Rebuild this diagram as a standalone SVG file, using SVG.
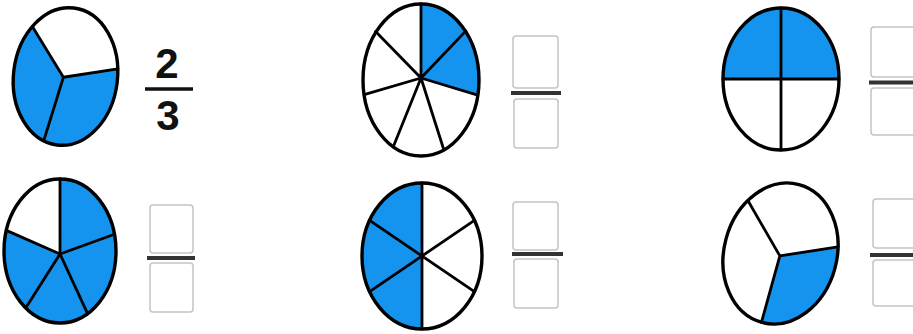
<svg xmlns="http://www.w3.org/2000/svg" width="913" height="334" viewBox="0 0 913 334">
<style>
.bg{fill:#ffffff}
.w{fill:#ffffff;stroke:none}
.b{fill:#1494ee;stroke:none}
.o{fill:none;stroke:#000;stroke-width:3.4}
.s{fill:none;stroke:#000;stroke-width:2.8;stroke-linecap:round;stroke-linejoin:round}
.box{fill:#fff;stroke:#c4c4c4;stroke-width:1.5}
.bar{stroke:#333;stroke-width:4}
.num{font-family:"Liberation Sans",Arial,sans-serif;font-weight:bold;font-size:42px;fill:#111;text-anchor:middle}
</style>
<rect class="bg" x="0" y="0" width="913" height="334"/>

<g id="pie-1">
  <g transform="translate(65.5 76.5) rotate(7)">
    <ellipse class="w" cx="0" cy="0" rx="52" ry="69"/>
    <path class="b" d="M -2 1 L -39 -45.6 A 52 69 0 0 0 -13.8 66.5 Z"/>
    <path class="b" d="M -2 1 L -13.8 66.5 A 52 69 0 0 0 51 -13.9 Z"/>
    <path class="s" d="M -39 -45.6 L -2 1 L 51 -13.9 M -2 1 L -13.8 66.5"/>
    <ellipse class="o" cx="0" cy="0" rx="52" ry="69"/>
  </g>
</g>
<g id="label-1">
  <text class="num" x="167" y="78">2</text>
  <line x1="145" y1="89" x2="193" y2="89" stroke="#111" stroke-width="3.5"/>
  <text class="num" x="168" y="130">3</text>
</g>

<g id="pie-2">
  <ellipse class="w" cx="421" cy="80" rx="58" ry="76"/>
  <path class="b" d="M 421 78 L 421 4 A 58 76 0 0 1 477.7 95.2 Z"/>
  <path class="s" d="M 421 4 L 421 78 M 465.9 30.9 L 421 78 M 477.7 95.2 L 421 78 M 443.6 149 L 421 78 M 393.6 146 L 421 78 M 364.2 94.7 L 421 78 M 375.6 31.6 L 421 78"/>
  <ellipse class="o" cx="421" cy="80" rx="58" ry="76"/>
</g>
<g id="answer-2">
  <rect class="box" x="513" y="36" width="45" height="52" rx="3"/>
  <line class="bar" x1="511" y1="93" x2="561" y2="93"/>
  <rect class="box" x="514" y="99" width="44" height="49" rx="3"/>
</g>

<g id="pie-3">
  <ellipse class="w" cx="781" cy="79" rx="58" ry="71"/>
  <path class="b" d="M 723 79 A 58 71 0 0 1 839 79 Z"/>
  <path class="s" d="M 781 8 V 150 M 723 79 H 839"/>
  <ellipse class="o" cx="781" cy="79" rx="58" ry="71"/>
</g>
<g id="answer-3">
  <rect class="box" x="871" y="27" width="60" height="50" rx="3"/>
  <line class="bar" x1="869" y1="82.5" x2="913" y2="82.5"/>
  <rect class="box" x="871" y="88" width="60" height="47" rx="3"/>
</g>

<g id="pie-4">
  <ellipse class="b" cx="60" cy="251" rx="56" ry="72"/>
  <path class="w" d="M 60 254 L 6.3 230.4 A 56 72 0 0 1 60 179 Z"/>
  <path class="s" d="M 60 179 L 60 254 M 114.5 234.2 L 60 254 M 87.6 313.7 L 60 254 M 25.7 307.9 L 60 254 M 6.3 230.4 L 60 254"/>
  <ellipse class="o" cx="60" cy="251" rx="56" ry="72"/>
</g>
<g id="answer-4">
  <rect class="box" x="150" y="205" width="43" height="48" rx="3"/>
  <line class="bar" x1="147" y1="258" x2="195" y2="258"/>
  <rect class="box" x="150" y="263" width="43" height="49" rx="3"/>
</g>

<g id="pie-5">
  <ellipse class="w" cx="422" cy="256" rx="60" ry="73"/>
  <path class="b" d="M 422 183 A 60 73 0 0 0 422 329 Z"/>
  <path class="s" d="M 422 183 V 329 M 369.6 220.4 L 474.4 291.6 M 474.4 220.4 L 369.6 291.6"/>
  <ellipse class="o" cx="422" cy="256" rx="60" ry="73"/>
</g>
<g id="answer-5">
  <rect class="box" x="513" y="202" width="45" height="48" rx="3"/>
  <line class="bar" x1="512" y1="254" x2="563" y2="254"/>
  <rect class="box" x="514" y="259" width="44" height="49" rx="3"/>
</g>

<g id="pie-6">
  <g transform="translate(780.5 253.5) rotate(15)">
    <ellipse class="w" cx="0" cy="0" rx="56.4" ry="71.4"/>
    <path class="b" d="M 0 2.5 L 53.8 -21.3 A 56.4 71.4 0 0 1 -0.6 71.4 Z"/>
    <path class="s" d="M -45.2 -42.7 L 0 2.5 L 53.8 -21.3 M 0 2.5 L -0.6 71.4"/>
    <ellipse class="o" cx="0" cy="0" rx="56.4" ry="71.4"/>
  </g>
</g>
<g id="answer-6">
  <rect class="box" x="873" y="199" width="60" height="49" rx="3"/>
  <line class="bar" x1="870" y1="255" x2="913" y2="255"/>
  <rect class="box" x="873" y="260" width="60" height="46" rx="3"/>
</g>

<g id="connectors"/>
</svg>
